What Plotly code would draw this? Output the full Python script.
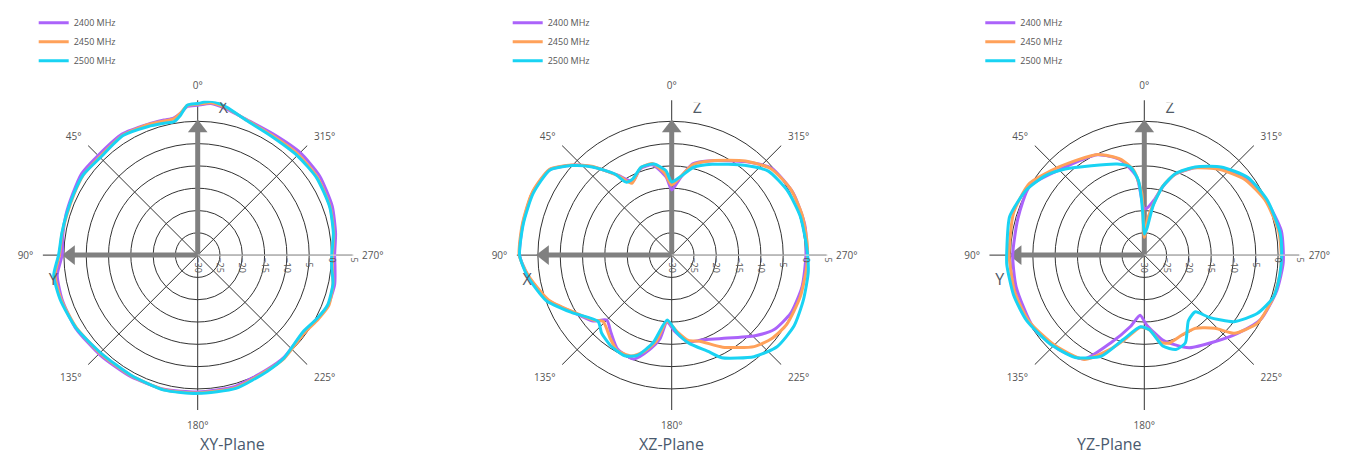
import plotly.graph_objects as go

# ---------------- data (dBi vs angle in degrees) ----------------
series_names = ["2400 MHz", "2450 MHz", "2500 MHz"]
series_colors = ["#ab63fa", "#ffa15a", "#19d3f3"]
angle_ticks = [0, 45, 90, 135, 180, 225, 270, 315]
angle_labels = ["0°", "45°", "90°", "135°", "180°", "225°", "270°", "315°"]
radial_ticks = [-30, -25, -20, -15, -10, -5, 0, 5]
plane_titles = ["XY-Plane", "XZ-Plane", "YZ-Plane"]

# XY plane
th_xy = [0, 4, 7, 10, 14, 21, 32, 45, 55, 64, 73, 81, 90, 98, 108, 121, 136, 151, 166, 180,
         196, 211, 220, 234, 242, 249, 258, 265, 270, 279, 290, 303, 315, 328, 340, 349, 355, 360]
r_xy_2400 = [3.6, 3.4, 2.0, 1.2, 1.2, 1.4, 2.0, 1.6, 1.8, 1.2, 0.9, 0.6, 0.4, 1.8, 2.0, 1.9, 1.3, 1.1, 1.0, 0.7,
             0.6, 0.0, 0.0, -0.6, 0.4, 1.3, 1.4, 0.9, 0.7, 1.3, 2.1, 2.6, 2.5, 2.0, 2.3, 3.4, 4.1, 3.6]
r_xy_2450 = [3.8, 3.6, 2.0, 1.0, 1.0, 1.3, 1.7, 1.1, 1.3, 0.9, 0.7, 0.8, 1.0, 2.3, 2.2, 1.7, 1.0, 0.9, 1.1, 0.9,
             0.9, 0.2, 0.2, -0.4, 0.6, 1.5, 1.0, 0.3, 0.2, 0.9, 1.6, 2.0, 1.9, 1.6, 2.2, 3.6, 4.3, 3.8]
r_xy_2500 = [4.0, 3.7, 1.6, 0.4, 0.5, 0.9, 1.6, 0.9, 1.35, 1.0, 0.8, 0.85, 1.2, 2.6, 2.4, 1.8, 0.85, 0.8, 1.2, 1.0,
             1.1, 0.35, 0.1, -0.8, 0.3, 1.2, 1.0, 0.15, 0.05, 0.8, 1.5, 1.8, 1.55, 1.35, 2.1, 3.8, 4.6, 4.0]

# XZ plane
th_xz_2400 = [0, 4, 12, 20, 28, 34, 42, 48, 55, 66, 78, 90, 98, 110, 120, 130, 135, 142, 150, 160,
              167, 172, 176, 182, 191, 200, 211, 226, 234, 244, 256, 264, 275, 283, 297, 311, 322, 337, 347, 354, 360]
r_xz_2400 = [-15.4, -12.5, -9.3, -9.4, -11.3, -8.4, -3.3, 0.1, 3.4, 4.2, 4.1, 4.1, 2.6, -0.4, -4.4, -7.0, -9.4, -7.9, -5.7, -5.2,
             -8.3, -11.0, -15.0, -13.0, -10.2, -9.8, -8.2, -4.0, -1.6, -0.3, 0.06, 0.0, 0.3, 0.6, 0.6, -0.3, -3.4, -7.0, -9.0, -12.8, -15.4]
th_xz_2450 = [0, 5, 12, 20, 29, 34, 42, 48, 55, 66, 78, 90, 98, 110, 120, 130, 134, 144, 150, 158,
              164, 170, 176, 184, 191, 198, 209, 222, 230, 239, 252, 265, 275, 287, 299, 311, 322, 337, 347, 354, 360]
r_xz_2450 = [-14.3, -11.5, -9.0, -9.3, -11.6, -8.5, -3.2, 0.2, 3.5, 4.3, 4.2, 4.2, 2.5, -0.6, -4.5, -7.3, -8.6, -6.7, -5.4, -5.6,
             -7.5, -10.5, -15.2, -12.8, -10.5, -9.7, -6.4, -2.4, -0.8, 0.1, 0.3, 0.4, 0.5, 0.6, 0.5, -0.5, -3.2, -7.0, -9.2, -12.5, -14.3]
th_xz_2500 = [0, 4, 11, 19, 27, 32, 35, 42, 48, 55, 66, 78, 90, 98, 110, 120, 132, 138, 146, 155,
              161, 168, 176, 184, 191, 201, 206, 219, 229, 240, 251, 263, 274, 287, 299, 311, 321, 336, 346, 354, 360]
r_xz_2500 = [-13.6, -11.0, -9.2, -9.1, -10.8, -10.7, -7.8, -3.4, 0.0, 3.3, 4.0, 4.0, 4.1, 2.75, -0.1, -4.2, -7.8, -6.5, -5.5, -5.1,
             -6.2, -9.9, -15.4, -12.5, -9.9, -6.8, -4.4, -0.7, 1.3, 1.7, 1.2, 0.85, 0.3, 0.1, -0.3, -1.3, -4.1, -7.7, -9.7, -12.4, -13.6]

# YZ plane
th_yz_2400 = [0, 1.5, 5.5, 14, 25, 45, 59, 74, 90, 104, 123, 138, 150, 159, 169, 176, 182, 192, 199, 206,
              219, 230, 241, 255, 267, 280, 294, 307, 319, 330, 339, 345, 350, 357, 360]
r_yz_2400 = [-19.5, -19, -12.4, -8.0, -5.2, -3.0, 0.0, -0.5, -0.5, -0.4, -0.3, -1.45, -3.1, -8.9, -13.7, -16.5, -14.3, -10.6, -8.7, -6.9,
             -5.0, -2.7, -0.2, 0.75, 1.2, 1.2, 0.0, -1.3, -4.0, -7.4, -10.6, -14.2, -17.5, -19.5, -19.5]
th_yz_2450 = [0, 2.4, 7, 14, 25, 44, 58, 72, 90, 106, 120, 135, 150, 160, 168, 177, 184, 191, 196, 205.5,
              215, 224, 229, 239, 252, 262, 270, 280, 294, 307, 319, 330, 339, 345, 350, 355, 360]
r_yz_2450 = [-26, -16.1, -10.9, -7.8, -5.1, -2.5, 0.35, 0.8, 0.3, 0.2, -0.2, -1.5, -3.0, -7.5, -11.0, -13.8, -13.2, -10.0, -9.5, -10.2,
             -10.0, -7.2, -3.3, -0.4, 0.45, 0.7, 0.7, 0.6, -0.2, -1.8, -4.5, -7.4, -10.5, -14.0, -18.5, -22, -26]
th_yz_2500 = [0, 2, 3, 4.5, 9, 16.5, 30.6, 42.5, 51, 61, 74, 89, 94, 107, 119, 133, 146, 157, 166, 177,
              184, 191.5, 198.5, 205, 214, 222, 226, 233.5, 242.6, 252, 262, 270, 279.5, 294, 307, 319, 330, 339, 345, 350, 354.4, 360]
r_yz_2500 = [-25.3, -21, -17, -13.2, -10.0, -8.7, -6.7, -3.8, -1.6, 0.2, 1.4, 0.85, 0.9, 0.65, 0.2, -0.95, -2.3, -5.4, -10.5, -13.9,
             -13.2, -9.2, -7.7, -8.25, -12.3, -12.9, -10.0, -4.9, -1.5, 0.45, 0.7, 0.8, 0.85, 0.2, -1.0, -3.8, -7.2, -10.4, -14.1, -18.9, -24.0, -25.3]

# axis letters per plane: (up-axis letter, left-axis letter)
axis_letters = [("X", "Y"), ("Z", "X"), ("Z", "Y")]
arrow_r = [-30, -1.5]

planes = [
    [(th_xy, r_xy_2400), (th_xy, r_xy_2450), (th_xy, r_xy_2500)],
    [(th_xz_2400, r_xz_2400), (th_xz_2450, r_xz_2450), (th_xz_2500, r_xz_2500)],
    [(th_yz_2400, r_yz_2400), (th_yz_2450, r_yz_2450), (th_yz_2500, r_yz_2500)],
]

# ---------------- figure ----------------
# page has an 8px body margin, so the figure is sized/positioned accordingly
OFF = 8
W, H = 1352 - OFF, 460 - OFF
centers_px = [197.7 - OFF, 671.7 - OFF, 1144.3 - OFF]
cy_px = 250 - OFF
rad_px = 160

fig = go.Figure()
arrow_col = "#808080"

for i, plane in enumerate(planes):
    pid = "polar" if i == 0 else f"polar{i+1}"
    lid = "legend" if i == 0 else f"legend{i+1}"
    for th, sym in [(0, "triangle-up"), (90, "triangle-left")]:
        fig.add_trace(go.Scatterpolar(r=arrow_r, theta=[th, th], mode="lines",
                                      line=dict(color=arrow_col, width=5), subplot=pid,
                                      showlegend=False, hoverinfo="skip"))
        fig.add_trace(go.Scatterpolar(r=[arrow_r[1]], theta=[th], mode="markers",
                                      marker=dict(symbol=sym, size=17, color=arrow_col),
                                      subplot=pid, showlegend=False, hoverinfo="skip"))
    for (th, rr), name, col in zip(plane, series_names, series_colors):
        fig.add_trace(go.Scatterpolar(r=rr, theta=th, mode="lines", name=name,
                                      line=dict(color=col, width=3, shape="spline", smoothing=0.6),
                                      subplot=pid, legend=lid))
    up, left = axis_letters[i]
    fig.add_trace(go.Scatterpolar(r=[3.2, 2.9, 5.6], theta=[350, 100, 258],
                                  mode="text", text=[up, left, "dBi"],
                                  textfont=dict(size=16, color="#505a66", family="Open Sans"),
                                  subplot=pid, showlegend=False, hoverinfo="skip",
                                  cliponaxis=False))

polar_common = dict(
    bgcolor="white",
    radialaxis=dict(range=[-30, 5], tickvals=radial_ticks, showline=True, linecolor="#dddddd",
                    linewidth=1, gridcolor="#333333", gridwidth=1, angle=0, tickangle=90,
                    tickfont=dict(size=9, color="#555"), ticks=""),
    angularaxis=dict(rotation=90, direction="counterclockwise", tickvals=angle_ticks,
                     ticktext=angle_labels, showline=True, linecolor="white", linewidth=2.5,
                     gridcolor="#333333", gridwidth=1,
                     tickfont=dict(size=10, color="#555"), ticks="outside", ticklen=5,
                     tickcolor="rgba(0,0,0,0)"),
)

layout_kw = {}
for i in range(3):
    pid = "polar" if i == 0 else f"polar{i+1}"
    lid = "legend" if i == 0 else f"legend{i+1}"
    x0 = (centers_px[i] - rad_px) / W
    x1 = (centers_px[i] + rad_px) / W
    y0 = (H - cy_px - rad_px) / H
    y1 = (H - cy_px + rad_px) / H
    layout_kw[pid] = dict(domain=dict(x=[x0, x1], y=[y0, y1]), **polar_common)
    layout_kw[lid] = dict(x=(centers_px[i] - 164) / W, y=1.0 + 11 / H, xanchor="left", yanchor="top",
                          font=dict(size=9, color="#555"), bgcolor="rgba(0,0,0,0)",
                          tracegroupgap=0)

fig.update_layout(
    width=W, height=H, margin=dict(l=0, r=0, t=0, b=0),
    paper_bgcolor="white", plot_bgcolor="white",
    font=dict(family="Open Sans, sans-serif", color="#555"),
    **layout_kw,
)

for i, t in enumerate(plane_titles):
    fig.add_annotation(text=t, x=centers_px[i] / W, y=(H - (444 - OFF)) / H, xref="paper", yref="paper",
                       yanchor="middle", showarrow=False, font=dict(size=16, color="#4a5a6e"))

fig.write_html("out.html")
